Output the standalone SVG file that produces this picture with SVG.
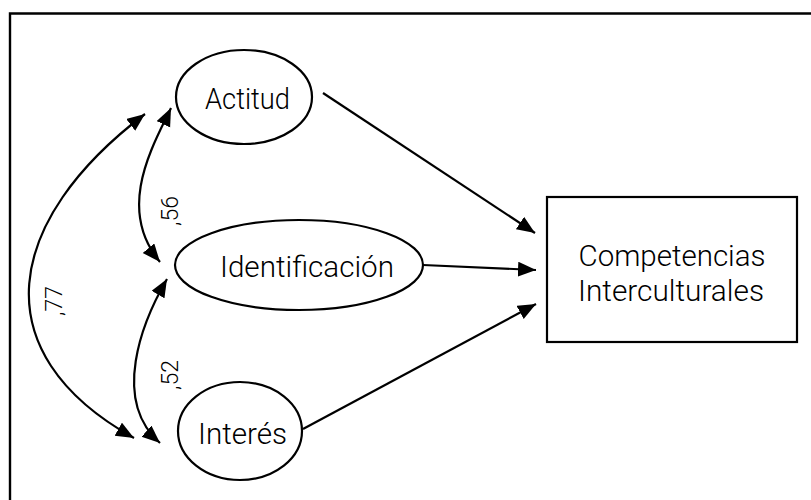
<svg xmlns="http://www.w3.org/2000/svg" width="811" height="500" viewBox="0 0 811 500">
  <style>
    .shape { fill: #ffffff; stroke: #000000; stroke-width: 2.2; }
    .label { font-family: Roboto, "Liberation Sans", Arial, sans-serif; font-weight: 300; font-size: 30px; fill: #000000; text-anchor: middle; }
    .coef { font-family: Roboto, "Liberation Sans", Arial, sans-serif; font-weight: 300; font-size: 23px; fill: #000000; text-anchor: middle; }
    .link { fill: none; stroke: #000000; stroke-width: 2.2; }
  </style>
  <defs>
    <marker id="head" markerUnits="userSpaceOnUse" markerWidth="20" markerHeight="16" refX="18" refY="7.5" orient="auto-start-reverse">
      <path d="M0,0 L18,7.5 L0,15 Z" fill="#000000"/>
    </marker>
  </defs>

  <rect width="811" height="500" fill="#ffffff"/>
  <!-- outer frame: top and left edges -->
  <path d="M10,500 L10,13.5 L811,13.5" fill="none" stroke="#000000" stroke-width="2.4"/>

  <g id="actitud">
    <ellipse class="shape" cx="244" cy="97" rx="68" ry="47"/>
    <text class="label" x="247.5" y="109" textLength="85" lengthAdjust="spacingAndGlyphs">Actitud</text>
  </g>

  <g id="identificacion">
    <ellipse class="shape" cx="299" cy="265" rx="124" ry="45"/>
    <text class="label" x="307" y="277" textLength="174" lengthAdjust="spacingAndGlyphs">Identificación</text>
  </g>

  <g id="interes">
    <ellipse class="shape" cx="240" cy="431" rx="62" ry="49"/>
    <text class="label" x="242.5" y="444" textLength="89" lengthAdjust="spacingAndGlyphs">Interés</text>
  </g>

  <g id="competencias">
    <rect class="shape" x="547" y="197" width="250" height="145"/>
    <text class="label" x="672" y="266" textLength="187" lengthAdjust="spacingAndGlyphs">Competencias</text>
    <text class="label" x="671" y="301" textLength="186" lengthAdjust="spacingAndGlyphs">Interculturales</text>
  </g>

  <g id="connectors">
    <!-- regression paths into the outcome -->
    <path class="link" d="M323,93 L535,233" marker-end="url(#head)"/>
    <path class="link" d="M423,265 L536,270" marker-end="url(#head)"/>
    <path class="link" d="M303,429 L536,304" marker-end="url(#head)"/>
    <!-- correlations between predictors -->
    <path class="link" d="M171,108 C154,144 115,208 160,262" marker-start="url(#head)" marker-end="url(#head)"/>
    <path class="link" d="M167,279 C142,322 111,400 160,443" marker-start="url(#head)" marker-end="url(#head)"/>
    <path class="link" d="M145,114 C5,220 -20,352 134,438" marker-start="url(#head)" marker-end="url(#head)"/>
  </g>

  <g id="coefficients">
    <text class="coef" transform="translate(178,211) rotate(-90)">,56</text>
    <text class="coef" transform="translate(178,375) rotate(-90)">,52</text>
    <text class="coef" transform="translate(62,301) rotate(-90)">,77</text>
  </g>
</svg>
